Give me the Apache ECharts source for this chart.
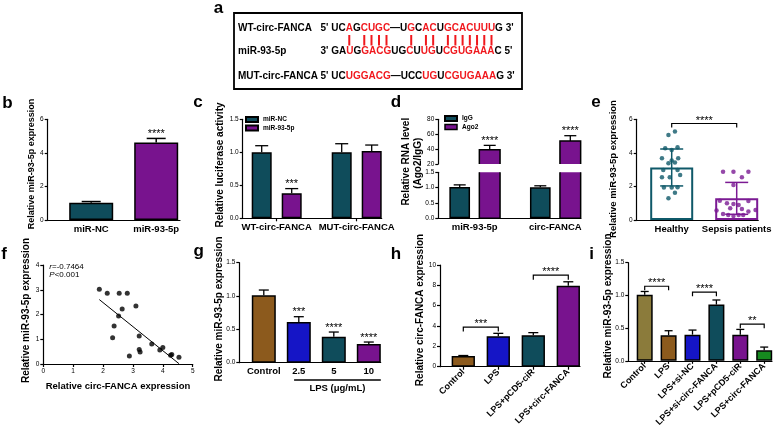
<!DOCTYPE html>
<html>
<head>
<meta charset="utf-8">
<script src="https://cdn.jsdelivr.net/npm/echarts@6.0.0/dist/echarts.min.js"></script>
<style>
html,body{margin:0;padding:0;background:#ffffff;}
#chart{width:781px;height:429px;}
</style>
</head>
<body>
<div id="chart"></div>
<script>
// ---------------- DATA ----------------
// panel a (sequence alignment)
const aNames = ['WT-circ-FANCA', 'miR-93-5p', 'MUT-circ-FANCA'];
const aEnds = [["5'", "3'"], ["3'", "5'"], ["5'", "3'"]];
const aSeqs = ['UCAGCUGC\u2014UGCACUGCACUUUG', 'GAUGGACGUGCUUGUCGUGAAAC', 'UCUGGACG\u2014UCCUGUCGUGAAAG'];
const aRed = [
  [2, 4, 5, 6, 7, 10, 12, 13, 15, 16, 17, 18, 19, 20, 21],
  [2, 4, 5, 6, 7, 10, 12, 13, 15, 16, 17, 18, 19, 20, 21],
  [2, 3, 4, 5, 6, 7, 12, 13, 15, 16, 17, 18, 19, 20, 21]
];
const aPairs = [2, 4, 5, 6, 7, 10, 12, 13, 15, 16, 17, 18, 19, 20, 21];

// panel b
const bCats = ['miR-NC', 'miR-93-5p'];
const bMean = [1.03, 4.62];
const bErr = [0.07, 0.24];
const bSig = ['', '****'];

// panel c
const cGroups = ['WT-circ-FANCA', 'MUT-circ-FANCA'];
const cNames = ['miR-NC', 'miR-93-5p'];
const cNCMean = [1.0, 1.0];
const cNCErr = [0.1, 0.13];
const cMiRMean = [0.38, 1.02];
const cMiRErr = [0.07, 0.09];
const cSig = ['***', ''];

// panel d
const dGroups = ['miR-93-5p', 'circ-FANCA'];
const dNames = ['IgG', 'Ago2'];
const dIgGMean = [1.02, 1.01];
const dIgGErr = [0.07, 0.05];
const dAgo2Mean = [39, 51];
const dAgo2Err = [6, 7];
const dSig = ['****', '****'];

// panel e
const eCats = ['Healthy', 'Sepsis patients'];
const eMean = [3.13, 1.29];
const eSD = [1.1, 0.95];
const eHealthy = [5.07, 5.27, 4.27, 4.17, 4.33, 3.68, 3.54, 3.68, 3.38, 3.42, 2.98, 2.98, 2.54, 2.54, 2.68, 1.93, 1.93, 1.95, 1.63, 1.29];
const eHealthyJit = [-0.05, 0.05, -0.10, 0, 0.09, -0.15, 0, 0.10, -0.05, 0.05, -0.13, 0.09, -0.15, -0.03, 0.13, -0.12, 0, 0.09, 0.05, -0.05];
const eSepsis = [2.88, 2.88, 2.88, 2.54, 2.09, 1.15, 1.0, 0.95, 0.9, 1.13, 0.56, 0.36, 0.3, 0.24, 0.3, 0.3, 0.5, 0.6, 0.65, 0.7];
const eSepsisJit = [-0.21, -0.05, 0.18, 0.08, -0.05, -0.26, -0.15, -0.05, 0.03, 0.18, -0.31, -0.21, -0.13, -0.05, 0.03, 0.10, 0.18, 0.29, 0.08, -0.10];
const eBrackets = [[0, 1, 5.75, '****']];

// panel f
const fX = [1.875, 2.14, 2.54, 2.81, 3.1, 2.64, 2.52, 2.37, 2.32, 3.21, 3.63, 2.88, 3.21, 3.24, 3.9, 4.0, 4.26, 4.3, 4.54];
const fY = [3.02, 2.86, 2.86, 2.86, 2.34, 2.22, 1.94, 1.54, 1.06, 1.13, 0.81, 0.32, 0.59, 0.48, 0.57, 0.67, 0.35, 0.38, 0.27];
const fStats = ['{i|r}=-0.7464', '{i|P}<0.001'];

// panel g
const gCats = ['Control', '2.5', '5', '10'];
const gMean = [1.01, 0.61, 0.39, 0.28];
const gErr = [0.08, 0.08, 0.07, 0.03];
const gSig = ['', '***', '****', '****'];
const gGroup = [[1, 3, 'LPS (\u03bcg/mL)']];

// panel h
const hCats = ['Control', 'LPS', 'LPS+pCD5-ciR', 'LPS+circ-FANCA'];
const hMean = [1.05, 3.0, 3.1, 7.95];
const hErr = [0.05, 0.28, 0.25, 0.4];
const hBrackets = [[0, 1, 3.9, '***'], [2, 3, 9.0, '****']];

// panel i
const iCats = ['Control', 'LPS', 'LPS+si-NC', 'LPS+si-circ-FANCA', 'LPS+pCD5-ciR', 'LPS+circ-FANCA'];
const iMean = [1.01, 0.39, 0.40, 0.86, 0.40, 0.16];
const iErr = [0.05, 0.07, 0.07, 0.07, 0.08, 0.05];
const iBrackets = [[0, 1, 1.14, '****'], [2, 3, 1.05, '****'], [4, 5, 0.56, '**']];

// titles
const yTitles = [
  ['Relative miR-93-5p expression', 32, 164, 9],
  ['Relative luciferase activity', 220.7, 165, 10],
  ['Relative RNA level', 406.7, 161.7, 10],
  ['(Ago2/IgG)', 418.3, 163.3, 10],
  ['Relative miR-93-5p expression', 613.3, 169, 9.5],
  ['Relative miR-93-5p expression', 26.5, 310.5, 10],
  ['Relative miR-93-5p expression', 219, 309, 10],
  ['Relative circ-FANCA expression', 420, 310, 10],
  ['Relative miR-93-5p expression', 608, 306, 10]
];
const fXTitle = 'Relative circ-FANCA expression';
const letters = [['a', 218.5, 8.5], ['b', 7.5, 103.5], ['c', 198, 102], ['d', 396, 102.5], ['e', 596, 102.5],
                 ['f', 4, 254.5], ['g', 198.7, 251], ['h', 396, 254.5], ['i', 591.7, 254.5]];

// ---------------- STYLE / LAYOUT ----------------
const FF = '"Liberation Sans", Arial, Helvetica, sans-serif';
const TEAL = '#0f4c5b', PURPLE = '#78138e', BROWN = '#8c5a1d', BLUE = '#1515c6', OLIVE = '#8b7b3b', GREEN = '#16891f', RED = '#f0181d';
const E_TEAL = '#0f5969', E_PURPLE = '#7b1a93';
const AX = {color: '#000', width: 1.2};
const D_BAR_W = 20.7;

const LAY = {
  b:  {axL: 47.7, axR: 180, yT: 119.3, yB: 220, c0: 91.2, p: 65},
  c:  {axL: 242.7, axR: 381.7, yT: 119.3, yB: 218.3, c0: 276.7, p: 80},
  dU: {axL: 438.3, axR: 580.7, yT: 119.3, yB: 164, c0: 474.7, p: 80.6},
  dL: {axL: 438.3, axR: 580.7, yT: 172.3, yB: 218.3, c0: 474.7, p: 80.6},
  e:  {axL: 636.7, axR: 758.3, yT: 119.3, yB: 220, c0: 671.7, p: 65},
  f:  {axL: 43.3, axR: 192.7, yT: 265, yB: 364},
  g:  {axL: 239.3, axR: 380.7, yT: 262.7, yB: 362.7, c0: 263.8, p: 35},
  h:  {axL: 440, axR: 580, yT: 265, yB: 366.7, c0: 463.3, p: 35},
  i:  {axL: 628.3, axR: 772, yT: 262.7, yB: 363.3, c0: 644.7, p: 23.9}
};

const grids = [], xAxis = [], yAxis = [], series = [], graphic = [];

function addGrid(k) {
  const l = LAY[k];
  grids.push({left: l.axL, top: l.yT, width: l.axR - l.axL, height: l.yB - l.yT, containLabel: false});
  return grids.length - 1;
}
function catX(gi, k, cats, o) {
  o = o || {};
  const l = LAY[k];
  const idx = cats.map((c, i) => i);
  xAxis.push({
    type: 'value', gridIndex: gi, min: (l.axL - l.c0) / l.p, max: (l.axR - l.c0) / l.p,
    splitLine: {show: false},
    axisLine: {show: o.line !== false, onZero: false, lineStyle: AX},
    axisTick: {show: !!o.ticks, customValues: idx, length: 3, lineStyle: AX},
    axisLabel: {show: o.labels !== false, customValues: idx, formatter: v => cats[Math.round(v)] || '',
      fontFamily: FF, fontSize: o.fs || 9.5, fontWeight: 'bold', color: '#000', margin: o.margin || 4, rotate: o.rotate || 0}
  });
}
function valY(gi, min, max, interval, dec) {
  yAxis.push({
    type: 'value', gridIndex: gi, min: min, max: max, interval: interval,
    splitLine: {show: false},
    axisLine: {show: true, onZero: false, lineStyle: AX},
    axisTick: {show: true, length: 3, lineStyle: AX},
    axisLabel: {fontFamily: FF, fontSize: 6.5, color: '#000', margin: 4, formatter: v => v.toFixed(dec)}
  });
}
function barSeries(gi, name, data, width, extra) {
  return Object.assign({
    type: 'bar', name: name, xAxisIndex: gi, yAxisIndex: gi, data: data, barWidth: width, barGap: '-100%',
    clip: true, z: 2, silent: true,
    itemStyle: {borderColor: '#000', borderWidth: 1.5}
  }, extra || {});
}
function errSeries(gi, pts, o) {
  return {
    type: 'custom', xAxisIndex: gi, yAxisIndex: gi, data: pts, z: 3, silent: true, clip: false,
    renderItem: function (params, api) {
      const i = params.dataIndex;
      const x = api.value(0), m = api.value(1), e = api.value(2);
      const top = api.coord([x, m + e]);
      const bot = api.coord([x, o.both ? m - e : m]);
      const col = Array.isArray(o.color) ? o.color[i] : (o.color || '#000');
      const lw = o.lw || 1.3, hc = o.cap / 2;
      const st = {stroke: col, lineWidth: lw};
      const ch = [
        {type: 'line', shape: {x1: top[0], y1: top[1], x2: bot[0], y2: bot[1]}, style: st},
        {type: 'line', shape: {x1: top[0] - hc, y1: top[1], x2: top[0] + hc, y2: top[1]}, style: st}
      ];
      if (o.both) ch.push({type: 'line', shape: {x1: bot[0] - hc, y1: bot[1], x2: bot[0] + hc, y2: bot[1]}, style: st});
      const s = o.stars && o.stars[i];
      if (s) ch.push({type: 'text', x: top[0], y: top[1] - 4.5,
        style: {text: s, font: '11px ' + FF, fill: '#000', textAlign: 'center', textVerticalAlign: 'middle', align: 'center', verticalAlign: 'middle'}});
      return {type: 'group', children: ch};
    }
  };
}
function bracketSeries(gi, brs, leg) {
  return {
    type: 'custom', xAxisIndex: gi, yAxisIndex: gi, data: brs.map(b => [b[0], b[1], b[2]]), z: 3, silent: true, clip: false,
    renderItem: function (params, api) {
      const i = params.dataIndex;
      const p1 = api.coord([api.value(0), api.value(2)]);
      const p2 = api.coord([api.value(1), api.value(2)]);
      return {type: 'group', children: [
        {type: 'polyline', shape: {points: [[p1[0], p1[1] + leg], [p1[0], p1[1]], [p2[0], p2[1]], [p2[0], p2[1] + leg]]},
         style: {stroke: '#000', lineWidth: 1.2, fill: null}},
        {type: 'text', x: (p1[0] + p2[0]) / 2, y: p1[1] - 3,
         style: {text: brs[i][3], font: '11px ' + FF, fill: '#000', textAlign: 'center', textVerticalAlign: 'middle', align: 'center', verticalAlign: 'middle'}}
      ]};
    }
  };
}
// outline of a bar cut by an axis break: draws only the edges inside the grid (no line at the break)
function brokenOutline(gi, pts, upper) {
  return {
    type: 'custom', xAxisIndex: gi, yAxisIndex: gi, data: pts, z: 3, silent: true, clip: false,
    renderItem: function (params, api) {
      const cs = params.coordSys;
      const p = api.coord([api.value(0), api.value(1)]);
      const base = api.coord([api.value(0), 0]);
      const xl = p[0] - D_BAR_W / 2, xr = p[0] + D_BAR_W / 2;
      const gTop = cs.y, gBot = cs.y + cs.height;
      let pts2;
      if (upper) {
        pts2 = [[xl, gBot], [xl, p[1]], [xr, p[1]], [xr, gBot]];
      } else {
        pts2 = [[xl, gTop], [xl, Math.min(base[1], gBot)], [xr, Math.min(base[1], gBot)], [xr, gTop]];
      }
      return {type: 'polyline', shape: {points: pts2}, style: {stroke: '#000', lineWidth: 1.5, fill: null}};
    }
  };
}

// ---- panel b ----
let gi = addGrid('b'); catX(gi, 'b', bCats); valY(gi, 0, 6, 2, 0);
const bColors = [TEAL, PURPLE];
series.push(barSeries(gi, 'b', bMean.map((v, i) => ({value: [i, v], itemStyle: {color: bColors[i]}})), 44));
series.push(errSeries(gi, bMean.map((v, i) => [i, v, bErr[i]]), {cap: 19, stars: bSig, lw: 1.5}));

// ---- panel c ----
const cOff = 15 / LAY.c.p;
gi = addGrid('c'); catX(gi, 'c', cGroups, {ticks: true}); valY(gi, 0, 1.5, 0.5, 1);
series.push(barSeries(gi, cNames[0], cNCMean.map((v, i) => [i - cOff, v]), 20, {itemStyle: {color: TEAL, borderColor: '#000', borderWidth: 1.5}}));
series.push(barSeries(gi, cNames[1], cMiRMean.map((v, i) => [i + cOff, v]), 20, {itemStyle: {color: PURPLE, borderColor: '#000', borderWidth: 1.5}}));
series.push(errSeries(gi, cNCMean.map((v, i) => [i - cOff, v, cNCErr[i]]), {cap: 13}));
series.push(errSeries(gi, cMiRMean.map((v, i) => [i + cOff, v, cMiRErr[i]]), {cap: 13, stars: cSig}));

// ---- panel d (broken axis) ----
const dOff = 15 / LAY.dU.p;
gi = addGrid('dU'); catX(gi, 'dU', dGroups, {line: false, labels: false}); valY(gi, 20, 80, 20, 0);
series.push(barSeries(gi, dNames[1], dAgo2Mean.map((v, i) => [i + dOff, v]), D_BAR_W, {itemStyle: {color: PURPLE, borderWidth: 0}}));
series.push(brokenOutline(gi, dAgo2Mean.map((v, i) => [i + dOff, v]), true));
series.push(errSeries(gi, dAgo2Mean.map((v, i) => [i + dOff, v, dAgo2Err[i]]), {cap: 12, stars: dSig}));
gi = addGrid('dL'); catX(gi, 'dL', dGroups); valY(gi, 0, 1.5, 0.5, 1);
series.push(barSeries(gi, dNames[0], dIgGMean.map((v, i) => [i - dOff, v]), D_BAR_W, {itemStyle: {color: TEAL, borderColor: '#000', borderWidth: 1.5}}));
series.push(barSeries(gi, dNames[1], dAgo2Mean.map((v, i) => [i + dOff, v]), D_BAR_W, {itemStyle: {color: PURPLE, borderWidth: 0}}));
series.push(brokenOutline(gi, dAgo2Mean.map((v, i) => [i + dOff, v]), false));
series.push(errSeries(gi, dIgGMean.map((v, i) => [i - dOff, v, dIgGErr[i]]), {cap: 12}));

// ---- panel e ----
const eColors = [E_TEAL, E_PURPLE];
gi = addGrid('e'); catX(gi, 'e', eCats); valY(gi, 0, 6, 2, 0);
series.push(barSeries(gi, 'e', eMean.map((v, i) => ({value: [i, v], itemStyle: {borderColor: eColors[i]}})), 43,
  {itemStyle: {color: 'rgba(255,255,255,0)', borderWidth: 2}}));
series.push(errSeries(gi, eMean.map((v, i) => [i, v, eSD[i]]), {cap: 23, both: true, color: eColors, lw: 1.5}));
series.push({type: 'scatter', xAxisIndex: gi, yAxisIndex: gi, z: 4, silent: true, symbolSize: 4.5,
  itemStyle: {color: E_TEAL}, data: eHealthy.map((v, k) => [0 + eHealthyJit[k], v])});
series.push({type: 'scatter', xAxisIndex: gi, yAxisIndex: gi, z: 4, silent: true, symbolSize: 4.5,
  itemStyle: {color: E_PURPLE}, data: eSepsis.map((v, k) => [1 + eSepsisJit[k], v])});
series.push(bracketSeries(gi, eBrackets, 4));

// ---- panel f ----
gi = addGrid('f');
xAxis.push({type: 'value', gridIndex: gi, min: 0, max: 5, interval: 1, splitLine: {show: false},
  axisLine: {onZero: false, lineStyle: AX}, axisTick: {length: 3, lineStyle: AX},
  axisLabel: {fontFamily: FF, fontSize: 6.5, color: '#000', margin: 4},
  name: fXTitle, nameLocation: 'middle', nameGap: 17,
  nameTextStyle: {fontFamily: FF, fontSize: 9.5, fontWeight: 'bold', color: '#000'}});
valY(gi, 0, 4, 1, 0);
const fN = fX.length;
const fMx = fX.reduce((a, b) => a + b, 0) / fN, fMy = fY.reduce((a, b) => a + b, 0) / fN;
let sxy = 0, sxx = 0;
for (let k = 0; k < fN; k++) { sxy += (fX[k] - fMx) * (fY[k] - fMy); sxx += (fX[k] - fMx) * (fX[k] - fMx); }
const fSlope = sxy / sxx, fIcpt = fMy - fSlope * fMx;
const fx0 = Math.min.apply(null, fX), fx1 = Math.max.apply(null, fX);
series.push({type: 'scatter', xAxisIndex: gi, yAxisIndex: gi, z: 4, silent: true, symbolSize: 5,
  itemStyle: {color: '#000'}, data: fX.map((x, k) => [x, fY[k]])});
series.push({type: 'line', xAxisIndex: gi, yAxisIndex: gi, z: 3, silent: true, symbol: 'none',
  lineStyle: {color: '#000', width: 1}, data: [[fx0, fIcpt + fSlope * fx0], [fx1, fIcpt + fSlope * fx1]]});

// ---- panel g ----
const gColors = [BROWN, BLUE, TEAL, PURPLE];
gi = addGrid('g'); catX(gi, 'g', gCats); valY(gi, 0, 1.5, 0.5, 1);
series.push(barSeries(gi, 'g', gMean.map((v, i) => ({value: [i, v], itemStyle: {color: gColors[i]}})), 24));
series.push(errSeries(gi, gMean.map((v, i) => [i, v, gErr[i]]), {cap: 10, stars: gSig}));
series.push({type: 'custom', xAxisIndex: gi, yAxisIndex: gi, silent: true, clip: false, z: 3,
  data: gGroup.map(g => [g[0], g[1]]),
  renderItem: function (params, api) {
    const p1 = api.coord([api.value(0), 0]), p2 = api.coord([api.value(1), 0]);
    const xa = p1[0] - 4.7, xb = p2[0] + 12, y = p1[1] + 17.3;
    return {type: 'group', children: [
      {type: 'line', shape: {x1: xa, y1: y, x2: xb, y2: y}, style: {stroke: '#000', lineWidth: 1.3}},
      {type: 'text', x: (xa + xb) / 2, y: y + 8.5, style: {text: gGroup[params.dataIndex][2], font: 'bold 9.5px ' + FF, fill: '#000',
        textAlign: 'center', textVerticalAlign: 'middle', align: 'center', verticalAlign: 'middle'}}
    ]};
  }});

// ---- panel h ----
const hColors = [BROWN, BLUE, TEAL, PURPLE];
gi = addGrid('h'); catX(gi, 'h', hCats, {ticks: true, rotate: 45, fs: 9, margin: 4}); valY(gi, 0, 10, 2, 0);
series.push(barSeries(gi, 'h', hMean.map((v, i) => ({value: [i, v], itemStyle: {color: hColors[i]}})), 23.3));
series.push(errSeries(gi, hMean.map((v, i) => [i, v, hErr[i]]), {cap: 10}));
series.push(bracketSeries(gi, hBrackets, 4.5));

// ---- panel i ----
const iColors = [OLIVE, BROWN, BLUE, TEAL, PURPLE, GREEN];
gi = addGrid('i'); catX(gi, 'i', iCats, {ticks: true, rotate: 45, fs: 9, margin: 4}); valY(gi, 0, 1.5, 0.5, 1);
series.push(barSeries(gi, 'i', iMean.map((v, i) => ({value: [i, v], itemStyle: {color: iColors[i]}})), 16));
series.push(errSeries(gi, iMean.map((v, i) => [i, v, iErr[i]]), {cap: 8}));
series.push(bracketSeries(gi, iBrackets, 4));

// ---------------- GRAPHIC (text / schematic) ----------------
function gtext(x, y, text, font, fill, align, rot) {
  return {type: 'text', x: x, y: y, rotation: rot || 0, silent: true,
    style: {text: text, font: font, fill: fill || '#000', textAlign: align || 'left', textVerticalAlign: 'middle', align: align || 'left', verticalAlign: 'middle'}};
}
letters.forEach(L => graphic.push(gtext(L[1], L[2], L[0], 'bold 17px ' + FF, '#000', 'center')));
yTitles.forEach(t => graphic.push(gtext(t[1], t[2], t[0], 'bold ' + t[3] + 'px ' + FF, '#000', 'center', Math.PI / 2)));

// f stats
fStats.forEach((s, k) => graphic.push({type: 'text', x: 49.3, y: 266.7 + k * 8.3, silent: true,
  style: {text: s, fontSize: 8, fontFamily: FF, fill: '#000', textVerticalAlign: 'middle', verticalAlign: 'middle',
    rich: {i: {fontStyle: 'italic', fontSize: 8, fontFamily: FF, fill: '#000'}}}}));

// panel a
const seqFont = 'bold 10px ' + FF;
const mctx = document.createElement('canvas').getContext('2d');
mctx.font = seqFont;
const tw = s => mctx.measureText(s).width;
const NAME_X = 238, SEQ_X = 320.5, LINE_Y = [28, 51.7, 76.7];
graphic.push({type: 'rect', silent: true, shape: {x: 234, y: 13, width: 288, height: 76},
  style: {fill: 'rgba(0,0,0,0)', stroke: '#000', lineWidth: 1.8}});
let wtStart = 0;
aNames.forEach((nm, r) => {
  graphic.push(gtext(NAME_X, LINE_Y[r], nm, seqFont));
  const pre = aEnds[r][0] + ' ';
  graphic.push(gtext(SEQ_X, LINE_Y[r], pre, seqFont));
  const x0 = SEQ_X + tw(pre);
  if (r === 0) wtStart = x0;
  const s = aSeqs[r];
  let j = 0;
  while (j < s.length) {
    const red = aRed[r].indexOf(j) >= 0;
    let k = j;
    while (k < s.length && (aRed[r].indexOf(k) >= 0) === red) k++;
    graphic.push(gtext(x0 + tw(s.slice(0, j)), LINE_Y[r], s.slice(j, k), seqFont, red ? RED : '#000'));
    j = k;
  }
  graphic.push(gtext(x0 + tw(s), LINE_Y[r], ' ' + aEnds[r][1], seqFont));
});
aPairs.forEach(j => {
  const s = aSeqs[0];
  const cx = wtStart + tw(s.slice(0, j)) + tw(s[j]) / 2;
  graphic.push({type: 'line', silent: true, shape: {x1: cx, y1: 35, x2: cx, y2: 45.5}, style: {stroke: RED, lineWidth: 2}});
});

// ---------------- CHART ----------------
const legendText = {fontFamily: FF, fontSize: 6.5, fontWeight: 'bold', color: '#000'};
const chart = echarts.init(document.getElementById('chart'), null, {renderer: 'canvas'});
chart.setOption({
  animation: false,
  backgroundColor: '#ffffff',
  textStyle: {fontFamily: FF},
  grid: grids,
  xAxis: xAxis,
  yAxis: yAxis,
  legend: [
    {data: cNames, orient: 'vertical', left: 245, top: 116, padding: 0, itemWidth: 12, itemHeight: 5, itemGap: 1.5,
     icon: 'rect', selectedMode: false, textStyle: legendText},
    {data: [{name: dNames[0]}, {name: dNames[1], itemStyle: {borderColor: '#000', borderWidth: 1.5}}],
     orient: 'vertical', left: 444, top: 115, padding: 0, itemWidth: 12, itemHeight: 5, itemGap: 1.5,
     icon: 'rect', selectedMode: false, textStyle: legendText}
  ],
  series: series,
  graphic: {elements: graphic}
});
</script>
</body>
</html>
